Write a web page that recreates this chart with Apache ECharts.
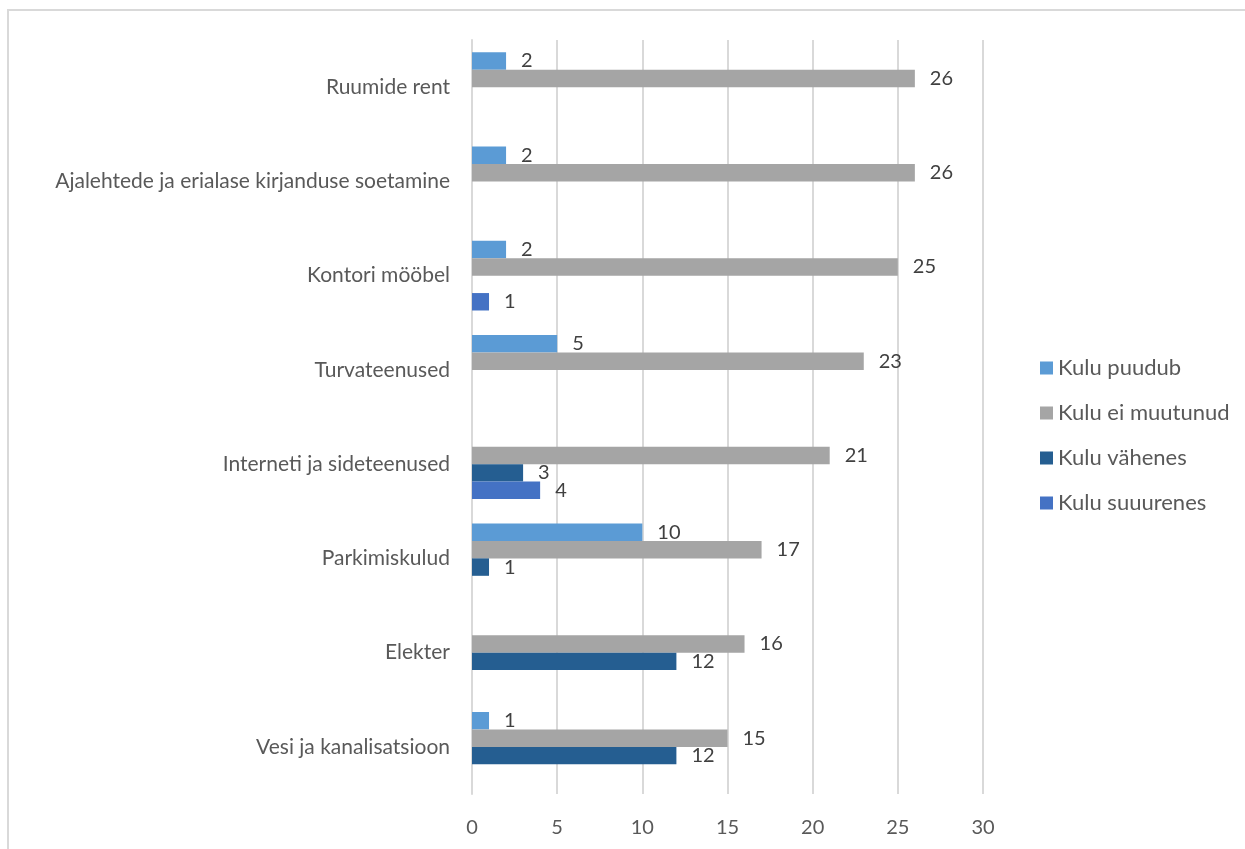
<!DOCTYPE html>
<html>
<head>
<meta charset="utf-8">
<script src="https://cdn.jsdelivr.net/npm/echarts@6/dist/echarts.min.js"></script>
<style>
  html, body { margin: 0; padding: 0; background: #fff; }
  #chart { width: 1245px; height: 849px; }
</style>
</head>
<body>
<div id="chart"></div>
<script>
// Expense categories, listed bottom to top along the category axis
const categories = [
  'Vesi ja kanalisatsioon',
  'Elekter',
  'Parkimiskulud',
  'Interneti ja sideteenused',
  'Turvateenused',
  'Kontori mööbel',
  'Ajalehtede ja erialase kirjanduse soetamine',
  'Ruumide rent'
];

// Number of answers per category ('-' = no bar)
const kuluPuudub     = [1, '-', 10, '-', 5, 2, 2, 2];
const kuluEiMuutunud = [15, 16, 17, 21, 23, 25, 26, 26];
const kuluVahenes    = [12, 12, 1, 3, '-', '-', '-', '-'];
const kuluSuurenes   = ['-', '-', '-', 4, '-', 1, '-', '-'];

const xTicks = [0, 5, 10, 15, 20, 25, 30];

const FONT = 'Lato, "Open Sans", sans-serif';
const TEXT = '#595959';

function barSeries(name, data, color) {
  return {
    name: name,
    type: 'bar',
    data: data,
    barGap: 0,
    barCategoryGap: '26%',
    itemStyle: { color: color },
    label: {
      show: true,
      position: 'right',
      distance: 15,
      color: '#404040',
      fontSize: 20,
      fontFamily: FONT
    }
  };
}

const chart = echarts.init(document.getElementById('chart'));
chart.setOption({
  animation: false,
  backgroundColor: '#fff',
  graphic: [{
    type: 'rect',
    shape: { x: 8, y: 10, width: 1400, height: 1000 },
    style: { fill: 'none', stroke: '#d9d9d9', lineWidth: 2 },
    silent: true
  }],
  grid: { left: 472, right: 262, top: 40, bottom: 55 },
  legend: {
    orient: 'vertical',
    left: 1035,
    top: 352,
    itemWidth: 13,
    itemHeight: 13,
    itemGap: 23,
    icon: 'rect',
    data: ['Kulu puudub', 'Kulu ei muutunud', 'Kulu vähenes', 'Kulu suuurenes'],
    textStyle: { color: TEXT, fontSize: 22, fontFamily: FONT, lineHeight: 22, padding: [0, 0, 0, 0] }
  },
  xAxis: {
    type: 'value',
    min: xTicks[0],
    max: xTicks[xTicks.length - 1],
    interval: xTicks[1] - xTicks[0],
    axisLine: { show: false },
    axisTick: { show: false },
    splitLine: { lineStyle: { color: '#d9d9d9', width: 2 } },
    axisLabel: { color: TEXT, fontSize: 20, fontFamily: FONT, margin: 24 }
  },
  yAxis: {
    type: 'category',
    data: categories,
    axisLine: { show: true, lineStyle: { color: '#d9d9d9', width: 2 } },
    axisTick: { show: false },
    axisLabel: { color: TEXT, fontSize: 21, fontFamily: FONT, margin: 22 }
  },
  // series listed top to bottom within each category group
  series: [
    barSeries('Kulu puudub', kuluPuudub, '#5B9BD5'),
    barSeries('Kulu ei muutunud', kuluEiMuutunud, '#A5A5A5'),
    barSeries('Kulu vähenes', kuluVahenes, '#255E91'),
    barSeries('Kulu suuurenes', kuluSuurenes, '#4472C4')
  ]
});
</script>
</body>
</html>
